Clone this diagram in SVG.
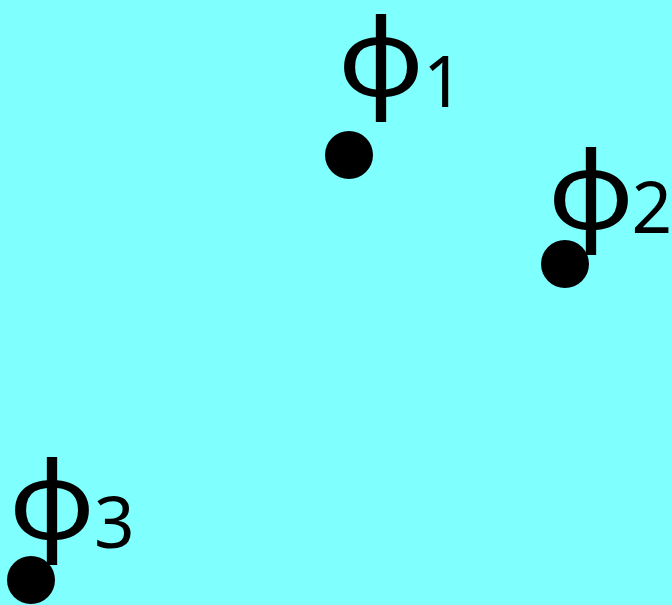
<svg xmlns="http://www.w3.org/2000/svg" width="672" height="605" viewBox="0 0 672 605">
<style>
.phi{font-family:"Noto Sans","DejaVu Sans",sans-serif;font-size:107px;fill:#000;text-anchor:middle}
.sub{font-family:"Noto Sans","DejaVu Sans",sans-serif;font-size:71px;fill:#000}
.dot{fill:#000}
</style>
<rect width="672" height="605" fill="#80FFFF"/>
<g id="node-phi1">
<circle class="dot" cx="349" cy="155" r="24"/>
<text class="phi" transform="translate(381,96) scale(1.12,1)">φ</text>
<text class="sub" x="423" y="107">1</text>
</g>
<g id="node-phi2">
<circle class="dot" cx="565" cy="264" r="24"/>
<text class="phi" transform="translate(591,229) scale(1.12,1)">φ</text>
<text class="sub" x="672" y="233" text-anchor="end">2</text>
</g>
<g id="node-phi3">
<circle class="dot" cx="31" cy="580" r="24"/>
<text class="phi" transform="translate(52,539) scale(1.12,1)">φ</text>
<text class="sub" x="94" y="548">3</text>
</g>
<g id="connectors"></g>
</svg>
